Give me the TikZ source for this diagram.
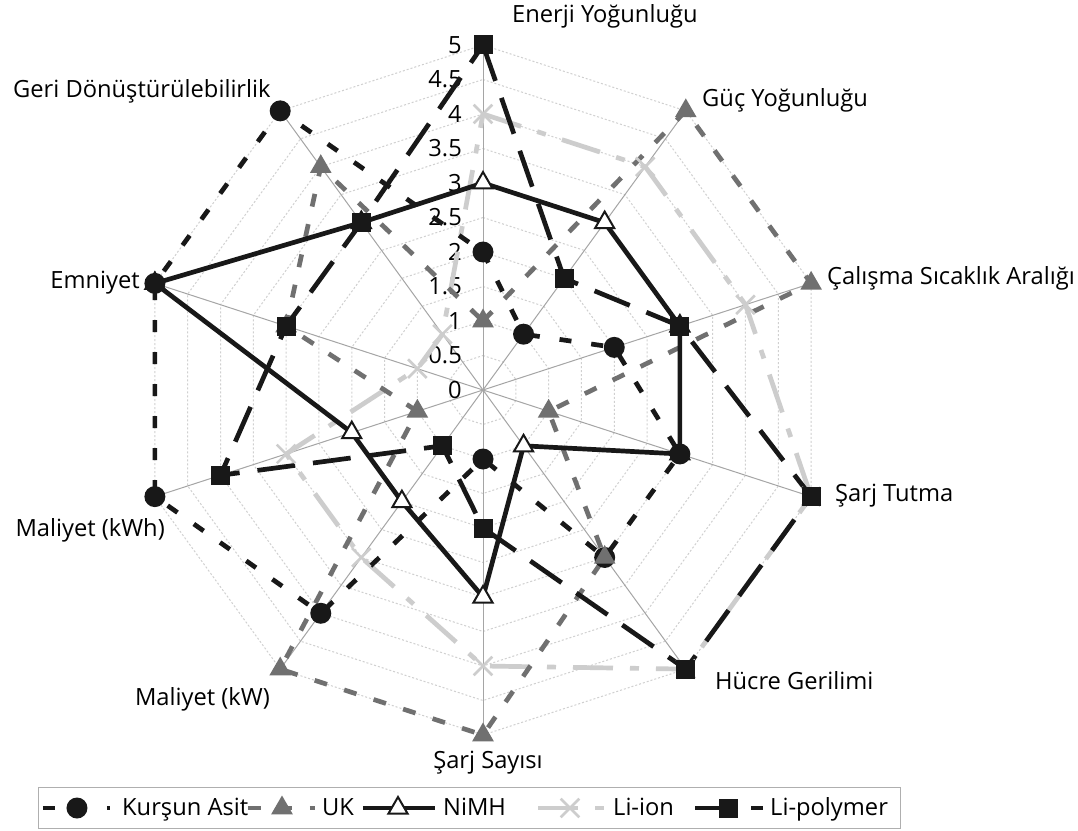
\documentclass[tikz,border=0pt]{standalone}
\usepackage{fontspec}
\setmainfont{Open Sans}
\usetikzlibrary{shapes.geometric,shapes.misc}

\definecolor{inkk}{RGB}{24,24,24}
\definecolor{ukgray}{RGB}{112,112,112}
\definecolor{ligray}{RGB}{205,205,205}
\definecolor{spokegray}{RGB}{165,165,165}
\definecolor{gridgray}{RGB}{208,208,208}
\definecolor{boxgray}{RGB}{175,175,175}

\tikzset{
  gridline/.style={draw=gridgray, line width=1, dash pattern=on 2 off 2},
  spoke/.style={draw=spokegray, line width=1},
  series/.style={line width=4.7, line join=round},
  kaline/.style={series, draw=inkk, dash pattern=on 12 off 20},
  ukline/.style={series, draw=ukgray, dash pattern=on 13 off 18},
  niline/.style={series, draw=inkk},
  liline/.style={series, draw=ligray, dash pattern=on 40 off 17 on 9 off 17},
  lpline/.style={series, draw=inkk, dash pattern=on 38 off 18},
  kamark/.style={circle, fill=inkk, minimum size=21, inner sep=0},
  ukmark/.style={regular polygon, regular polygon sides=3, fill=ukgray, minimum size=25, inner sep=0},
  nimark/.style={regular polygon, regular polygon sides=3, draw=inkk, fill=white, line width=2, minimum size=22, inner sep=0},
  limark/.style={cross out, draw=ligray, line width=2.6, minimum size=16, inner sep=0},
  lpmark/.style={rectangle, fill=inkk, minimum size=19, inner sep=0},
  axlab/.style={inner sep=0, text=black},
  vallab/.style={inner sep=0, anchor=east, text=black},
  legtext/.style={inner sep=0, anchor=base west, text=black},
}

\begin{document}
\begin{tikzpicture}[x=1pt, y=1pt, font=\fontsize{23.7}{28}\selectfont]
\useasboundingbox (-483,-440) rectangle (595,390);
\fill[white] (-483,-440) rectangle (595,390);

% centre and the ten axis ends (value 5 = 345 units)
\coordinate (O) at (0,0);
\foreach \k in {0,...,9} \coordinate (ax\k) at (90-36*\k:345);

% dotted decagon grid every 0.5
\foreach \r in {1,...,10}
  \draw[gridline] (90:34.5*\r) \foreach \k in {1,...,9}{ -- (90-36*\k:34.5*\r)} -- cycle;

% spokes
\foreach \k in {0,...,9} \draw[spoke] (O) -- (ax\k);

% scale labels along the vertical axis
\foreach \s/\t in {0/0,1/0.5,2/1,3/1.5,4/2,5/2.5,6/3,7/3.5,8/4,9/4.5,10/5}
  \node[vallab] (val\s) at (-21,34.5*\s) {\t};

% axis titles
\node[axlab, anchor=base west] (tEY) at (29,367) {Enerji Yoğunluğu};
\node[axlab, anchor=base west] (tGY) at (219,283) {Güç Yoğunluğu};
\node[axlab, anchor=base west] (tCS) at (344,106) {Çalışma Sıcaklık Aralığı};
\node[axlab, anchor=base west] (tST) at (352,-111) {Şarj Tutma};
\node[axlab, anchor=base west] (tHG) at (232,-299) {Hücre Gerilimi};
\node[axlab, anchor=base] (tSS) at (5,-378) {Şarj Sayısı};
\node[axlab, anchor=base east] (tMW) at (-213,-315) {Maliyet (kW)};
\node[axlab, anchor=base east] (tMH) at (-318,-146) {Maliyet (kWh)};
\node[axlab, anchor=base east] (tEM) at (-343,102) {Emniyet};
\node[axlab, anchor=base west] (tGD) at (-470,292) {Geri Dönüştürülebilirlik};

% data points (one unit = 69)
\foreach \v [count=\i from 0] in {2,1,2,3,3,1,4,5,5,5} \coordinate (ka\i) at (90-36*\i:69*\v);
\foreach \v [count=\i from 0] in {1,5,5,1,3,5,5,1,3,4} \coordinate (uk\i) at (90-36*\i:69*\v);
\foreach \v [count=\i from 0] in {3,3,3,3,1,3,2,2,5,3} \coordinate (ni\i) at (90-36*\i:69*\v);
\foreach \v [count=\i from 0] in {4,4,4,5,5,4,3,3,1,1} \coordinate (li\i) at (90-36*\i:69*\v);
\foreach \v [count=\i from 0] in {5,2,3,5,5,2,1,4,3,3} \coordinate (lp\i) at (90-36*\i:69*\v);

% series outlines
\draw[liline] (li0) -- (li1) -- (li2) -- (li3) -- (li4) -- (li5) -- (li6) -- (li7) -- (li8) -- (li9) -- cycle;
\draw[kaline] (ka0) -- (ka1) -- (ka2) -- (ka3) -- (ka4) -- (ka5) -- (ka6) -- (ka7) -- (ka8) -- (ka9) -- cycle;
\draw[ukline] (uk0) -- (uk1) -- (uk2) -- (uk3) -- (uk4) -- (uk5) -- (uk6) -- (uk7) -- (uk8) -- (uk9) -- cycle;
\draw[niline] (ni0) -- (ni1) -- (ni2) -- (ni3) -- (ni4) -- (ni5) -- (ni6) -- (ni7) -- (ni8) -- (ni9) -- cycle;
\draw[lpline] (lp0) -- (lp1) -- (lp2) -- (lp3) -- (lp4) -- (lp5) -- (lp6) -- (lp7) -- (lp8) -- (lp9) -- cycle;

% markers
\foreach \i in {0,...,9} \node[nimark] (nim\i) at (ni\i) {};
\foreach \i in {0,...,9} \node[kamark] (kam\i) at (ka\i) {};
\foreach \i in {0,...,9} \node[ukmark] (ukm\i) at (uk\i) {};
\foreach \i in {0,...,9} \node[limark] (lim\i) at (li\i) {};
\foreach \i in {0,...,9} \node[lpmark] (lpm\i) at (lp\i) {};

% legend
\node[draw=boxgray, line width=1, inner sep=0, minimum width=862, minimum height=41, anchor=north west] (legend) at (-445,-397) {};
\coordinate (lkaA) at (-440,-418); \coordinate (lkaB) at (-373,-418);
\coordinate (lukA) at (-235,-418); \coordinate (lukB) at (-168,-418);
\coordinate (lniA) at (-120,-418); \coordinate (lniB) at (-48,-418);
\coordinate (lliA) at (55,-418);   \coordinate (lliB) at (124,-418);
\coordinate (llpA) at (212,-418);  \coordinate (llpB) at (280,-418);
\draw[kaline] (lkaA) -- (lkaB);
\draw[ukline] (lukA) -- (lukB);
\draw[niline] (lniA) -- (lniB);
\draw[liline] (lliA) -- (lliB);
\draw[lpline] (llpA) -- (llpB);
\node[kamark] (lkam) at (-406,-418) {};
\node[ukmark] (lukm) at (-201,-418) {};
\node[nimark] (lnim) at (-85,-418) {};
\node[limark] (llim) at (87,-418) {};
\node[lpmark] (llpm) at (245,-418) {};
\node[legtext] (lkat) at (-361,-425) {Kurşun Asit};
\node[legtext] (lukt) at (-161,-425) {UK};
\node[legtext] (lnit) at (-40,-425) {NiMH};
\node[legtext] (llit) at (130,-425) {Li-ion};
\node[legtext] (llpt) at (287,-425) {Li-polymer};
\end{tikzpicture}
\end{document}
